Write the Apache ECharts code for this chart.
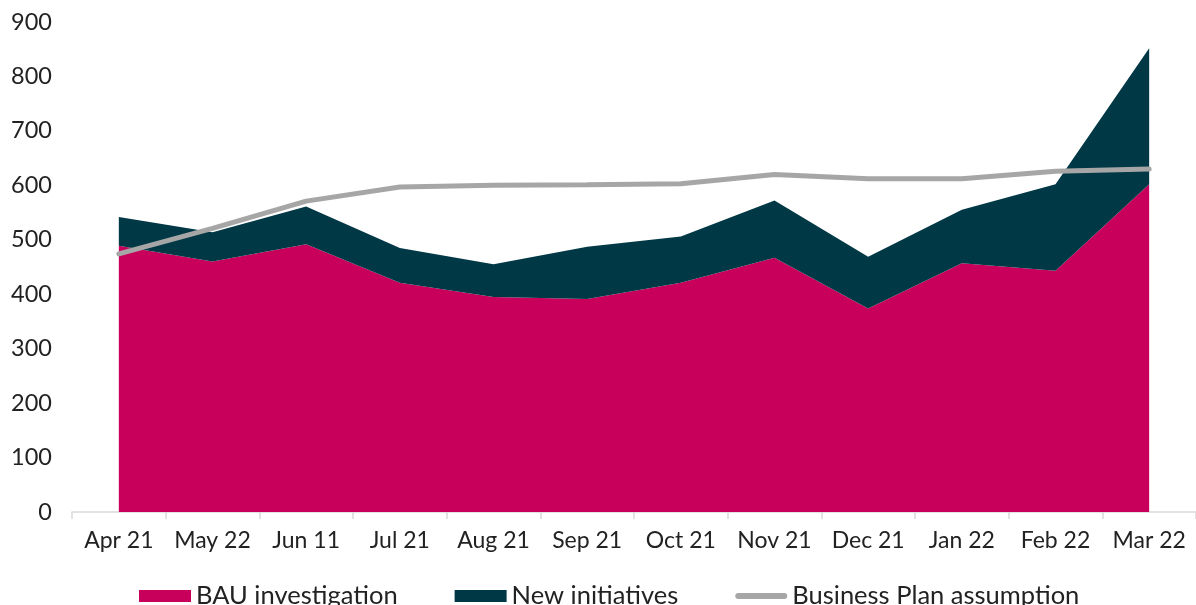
<!DOCTYPE html>
<html>
<head>
<meta charset="UTF-8">
<title>BAU vs New initiatives</title>
<script src="https://cdn.jsdelivr.net/npm/echarts@6/dist/echarts.min.js"></script>
<style>
	html, body { margin: 0; padding: 0; background: #fff; }
	#chart { width: 1196px; height: 605px; }
</style>
</head>
<body>
<div id="chart"></div>
<script>
	// data
	var months = ['Apr 21', 'May 22', 'Jun 11', 'Jul 21', 'Aug 21', 'Sep 21', 'Oct 21', 'Nov 21', 'Dec 21', 'Jan 22', 'Feb 22', 'Mar 22'];
	var bau = [489, 460, 492, 421, 395, 391, 421, 467, 374, 457, 443, 602];
	var newInit = [53, 54, 69, 64, 60, 96, 85, 105, 95, 98, 159, 250];
	var planLine = [474, 521, 571, 597, 600, 601, 603, 620, 612, 612, 626, 630];

	var font = 'Lato';
	var chart = echarts.init(document.getElementById('chart'));
	chart.setOption({
		animation: false,
		textStyle: { fontFamily: font },
		grid: { left: 72, right: 0, top: 22, bottom: 93 },
		legend: {
			left: 134,
			top: 578,
			itemWidth: 52,
			itemHeight: 12,
			itemGap: 57,
			textStyle: { fontSize: 25.5, color: '#222', fontFamily: font },
			data: [
				{ name: 'BAU investigation', icon: 'rect' },
				{ name: 'New initiatives', icon: 'rect' },
				{ name: 'Business Plan assumption', icon: 'path://M3,0 H49 A3,3 0 0 1 49,6 H3 A3,3 0 0 1 3,0 Z' }
			]
		},
		xAxis: {
			type: 'category',
			data: months,
			boundaryGap: true,
			axisLine: { lineStyle: { color: '#d9d9d9', width: 1.5 } },
			axisTick: { show: true, length: 7, lineStyle: { color: '#d9d9d9', width: 1.5 } },
			axisLabel: { interval: 0, fontSize: 23, color: '#222', margin: 17 }
		},
		yAxis: {
			type: 'value',
			min: 0,
			max: 900,
			interval: 100,
			splitLine: { show: false },
			axisLine: { show: false },
			axisTick: { show: false },
			axisLabel: { fontSize: 23.5, color: '#222', margin: 20 }
		},
		series: [
			{
				name: 'BAU investigation',
				type: 'line',
				stack: 'total',
				data: bau,
				symbol: 'none',
				lineStyle: { width: 0 },
				itemStyle: { color: '#c8005c' },
				areaStyle: { color: '#c8005c', opacity: 1 }
			},
			{
				name: 'New initiatives',
				type: 'line',
				stack: 'total',
				data: newInit,
				symbol: 'none',
				lineStyle: { width: 0 },
				itemStyle: { color: '#003845' },
				areaStyle: { color: '#003845', opacity: 1 }
			},
			{
				name: 'Business Plan assumption',
				type: 'line',
				data: planLine,
				symbol: 'none',
				itemStyle: { color: '#a6a6a6' },
				lineStyle: { color: '#a6a6a6', width: 5, cap: 'round' }
			}
		]
	});
</script>
</body>
</html>
